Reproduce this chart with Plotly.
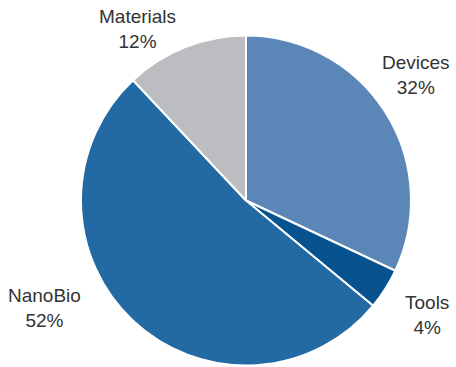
import plotly.graph_objects as go

# Share of items by category
categories = ["Devices", "Tools", "NanoBio", "Materials"]
shares = [32, 4, 52, 12]
colors = ["#5b87b8", "#07538f", "#2369a3", "#bbbdc0"]

# Label centre points in paper coordinates (x, y)
label_pos = {
    "Devices": (0.912, 0.795),
    "Tools": (0.937, 0.143),
    "NanoBio": (0.097, 0.16),
    "Materials": (0.302, 0.92),
}

W, H = 456, 367
cx, cy, r = 246, 200.5, 165

fig = go.Figure(go.Pie(
    labels=categories,
    values=shares,
    sort=False,
    direction="clockwise",
    rotation=0,
    textinfo="none",
    hoverinfo="label+percent",
    marker=dict(colors=colors, line=dict(color="white", width=2)),
    domain=dict(x=[(cx - r) / W, (cx + r) / W],
                y=[(H - cy - r) / H, (H - cy + r) / H]),
    showlegend=False,
))

for cat, val in zip(categories, shares):
    x, y = label_pos[cat]
    fig.add_annotation(
        x=x, y=y, xref="paper", yref="paper",
        xanchor="center", yanchor="middle",
        text=f"{cat}<br>{val}%",
        showarrow=False, align="center",
        font=dict(family="Liberation Sans, Arial, sans-serif", size=19, color="#333333"),
    )

fig.update_layout(
    width=W, height=H,
    margin=dict(l=0, r=0, t=0, b=0),
    paper_bgcolor="white",
    plot_bgcolor="white",
)

fig.write_html("out.html")
